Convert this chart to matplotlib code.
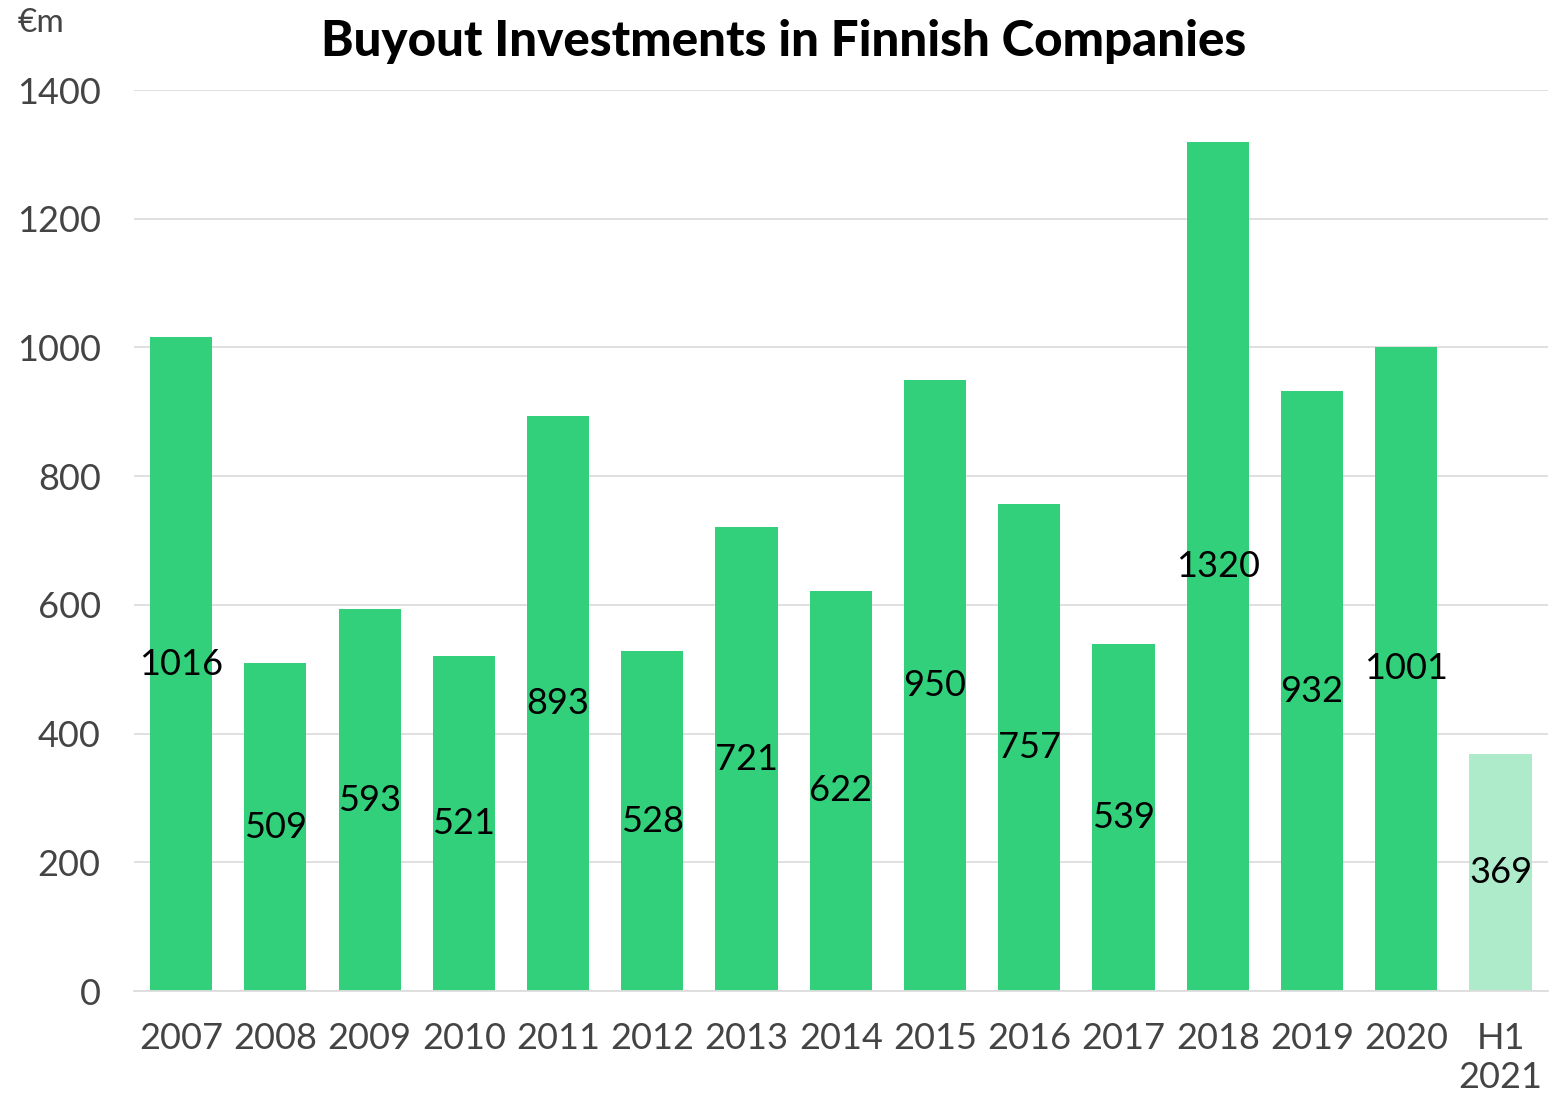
import matplotlib.pyplot as plt
import numpy as np

plt.rcParams['font.family'] = ['Lato', 'DejaVu Sans']

# Data
years = ['2007', '2008', '2009', '2010', '2011', '2012', '2013', '2014',
         '2015', '2016', '2017', '2018', '2019', '2020', 'H1\n2021']
values = [1016, 509, 593, 521, 893, 528, 721, 622, 950, 757, 539, 1320, 932, 1001, 369]

green = '#33D07C'
light_green = '#AEEBCB'
colors = [green] * (len(values) - 1) + [light_green]

fig = plt.figure(figsize=(15.62, 10.94), dpi=100)
ax = fig.add_axes([0.0858, 0.0941, 0.905, 0.8236])

x = np.arange(len(values))
ax.bar(x, values, width=0.66, color=colors, zorder=2)

# value labels in the middle of the bars
for xi, v in zip(x, values):
    ax.text(xi, v / 2, str(v), ha='center', va='center', fontsize=26, color='black', zorder=3)

ax.set_xlim(-0.5, len(values) - 0.5)
ax.set_ylim(0, 1400)
ax.set_yticks(np.arange(0, 1401, 200))
ax.yaxis.grid(True, color='#DDDDDD', linewidth=1.3, zorder=0)
ax.set_axisbelow(True)

ax.set_xticks(x)
ax.set_xticklabels(years, fontsize=26, color='#444444', linespacing=1.25)
ax.tick_params(axis='y', labelsize=26, labelcolor='#444444', length=0, pad=24)
ax.tick_params(axis='x', length=0, pad=22)

for side in ['top', 'right', 'left']:
    ax.spines[side].set_visible(False)
ax.spines['bottom'].set_color('#DDDDDD')
ax.spines['bottom'].set_linewidth(1.3)

fig.text(0.502, 0.962, 'Buyout Investments in Finnish Companies', ha='center', va='center',
         fontsize=35.5, fontweight='black', color='black')
fig.text(0.011, 0.979, '€m', ha='left', va='center', fontsize=24, color='#444444')

fig.savefig('out.png', dpi=100)
